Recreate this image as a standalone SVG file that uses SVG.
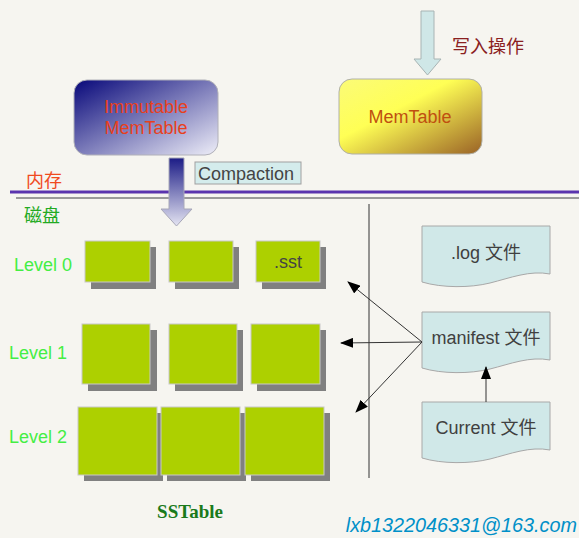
<svg xmlns="http://www.w3.org/2000/svg" width="579" height="538" viewBox="0 0 579 538">
<defs>
<linearGradient id="gImm" x1="0" y1="0" x2="1" y2="1">
<stop offset="0" stop-color="#08087a"/>
<stop offset="1" stop-color="#eeeef8"/>
</linearGradient>
<linearGradient id="gMem" x1="0" y1="0" x2="1" y2="1">
<stop offset="0" stop-color="#fbfb78"/>
<stop offset="0.4" stop-color="#ffff55"/>
<stop offset="1" stop-color="#9a6226"/>
</linearGradient>
<linearGradient id="gDown" x1="0" y1="0" x2="0" y2="1">
<stop offset="0" stop-color="#1c1c86"/>
<stop offset="1" stop-color="#e4e4f2"/>
</linearGradient>
<marker id="ah" markerWidth="13" markerHeight="10" refX="12" refY="5" orient="auto" markerUnits="userSpaceOnUse">
<path d="M0,0 L13,5 L0,10 Z" fill="#000"/>
</marker>
<path id="doc" d="M0,0 H128 V48 C108,44 88,52 68,57 C48,62 20,62 0,56 Z"/>
<style>
.lbl{font-family:"Liberation Sans","Noto Sans CJK SC",sans-serif;font-size:18px}
.sst{fill:#add000;stroke:#c8c8c8;stroke-width:1}
.sh{fill:#808080}
.doc{fill:#d0e8e8;stroke:#a8a8a8;stroke-width:1}
.dt{fill:#404040;text-anchor:middle}
.lv{fill:#44ee44}
.conn{stroke:#333;stroke-width:1;fill:none}
</style>
</defs>
<rect width="579" height="538" fill="#f6f5f0"/>

<g id="memory-line">
<line x1="10" y1="192" x2="579" y2="192" stroke="#5a34ae" stroke-width="3"/>
<line x1="16" y1="198" x2="579" y2="198" stroke="#9a9a9a" stroke-width="2"/>
<text class="lbl" x="26" y="187" fill="#f04a1e">内存</text>
<text class="lbl" x="24" y="222" fill="#22aa22" font-size="19">磁盘</text>
</g>

<g id="immutable-memtable">
<rect x="74" y="80" width="144" height="75" rx="13" fill="url(#gImm)" stroke="#b0b0b8"/>
<text class="lbl" x="146" y="113" fill="#e8401c" text-anchor="middle" font-size="18.5">Immutable</text>
<text class="lbl" x="146" y="134" fill="#e8401c" text-anchor="middle" font-size="18.5">MemTable</text>
</g>

<g id="memtable">
<rect x="339" y="79" width="143" height="75" rx="13" fill="url(#gMem)" stroke="#b0b0a8"/>
<text class="lbl" x="410" y="123" fill="#c05010" text-anchor="middle">MemTable</text>
</g>

<g id="write-op">
<path d="M421,11 H434 V59 H441 L427.5,75 L414,59 H421 Z" fill="#cfe7e7" stroke="#a8b4b4"/>
<text class="lbl" x="452" y="53" fill="#8a2020" font-size="18.5">写入操作</text>
</g>

<g id="compaction">
<path d="M169,158 H184 V209 H192 L176.5,226 L161,209 H169 Z" fill="url(#gDown)" stroke="#a8a8b8"/>
<rect x="195" y="162" width="106" height="22" fill="#d4ecec" stroke="#a0a0a0"/>
<text class="lbl" x="198" y="180" fill="#444">Compaction</text>
</g>

<g id="level0">
<text class="lbl lv" x="14" y="271">Level 0</text>
<rect class="sh" x="91" y="247" width="65" height="42"/>
<rect class="sst" x="85" y="241" width="65" height="41"/>
<rect class="sh" x="175" y="247" width="64" height="42"/>
<rect class="sst" x="169" y="241" width="64" height="41"/>
<rect class="sh" x="262" y="247" width="64" height="42"/>
<rect class="sst" x="256" y="241" width="64" height="41"/>
<text class="lbl" x="288" y="268" fill="#444" text-anchor="middle">.sst</text>
</g>

<g id="level1">
<text class="lbl lv" x="9" y="359">Level 1</text>
<rect class="sh" x="88" y="330" width="69" height="61"/>
<rect class="sst" x="82" y="324" width="68" height="60"/>
<rect class="sh" x="175" y="330" width="68" height="61"/>
<rect class="sst" x="169" y="324" width="68" height="60"/>
<rect class="sh" x="257" y="330" width="69" height="61"/>
<rect class="sst" x="251" y="324" width="69" height="60"/>
</g>

<g id="level2">
<text class="lbl lv" x="9" y="443">Level 2</text>
<rect class="sh" x="84" y="413" width="79" height="68"/>
<rect class="sst" x="78" y="407" width="79" height="68"/>
<rect class="sh" x="167" y="413" width="79" height="68"/>
<rect class="sst" x="161" y="407" width="79" height="68"/>
<rect class="sh" x="251" y="413" width="79" height="68"/>
<rect class="sst" x="245" y="407" width="79" height="68"/>
</g>

<g id="sstable-label">
<text x="190" y="518" text-anchor="middle" font-family="'Liberation Serif',serif" font-weight="bold" font-size="19" fill="#1a7a1a">SSTable</text>
</g>

<g id="divider">
<line x1="369" y1="204" x2="369" y2="478" stroke="#333" stroke-width="1"/>
</g>

<g id="log-file">
<use href="#doc" class="doc" transform="translate(422,226)"/>
<text class="lbl dt" x="486" y="259">.log 文件</text>
</g>

<g id="manifest-file">
<use href="#doc" class="doc" transform="translate(422,312)"/>
<text class="lbl dt" x="486" y="344">manifest 文件</text>
</g>

<g id="current-file">
<use href="#doc" class="doc" transform="translate(422,402)"/>
<text class="lbl dt" x="486" y="434">Current 文件</text>
</g>

<g id="connectors">
<line class="conn" x1="422" y1="342" x2="348" y2="282" marker-end="url(#ah)"/>
<line class="conn" x1="422" y1="342" x2="341" y2="343" marker-end="url(#ah)"/>
<line class="conn" x1="422" y1="342" x2="356" y2="412" marker-end="url(#ah)"/>
<line class="conn" x1="486" y1="402" x2="486" y2="367" marker-end="url(#ah)"/>
</g>

<g id="email">
<text x="577" y="532" text-anchor="end" font-family="'Liberation Sans',sans-serif" font-style="italic" font-size="19.8" fill="#0090c8">lxb1322046331@163.com</text>
</g>
</svg>
